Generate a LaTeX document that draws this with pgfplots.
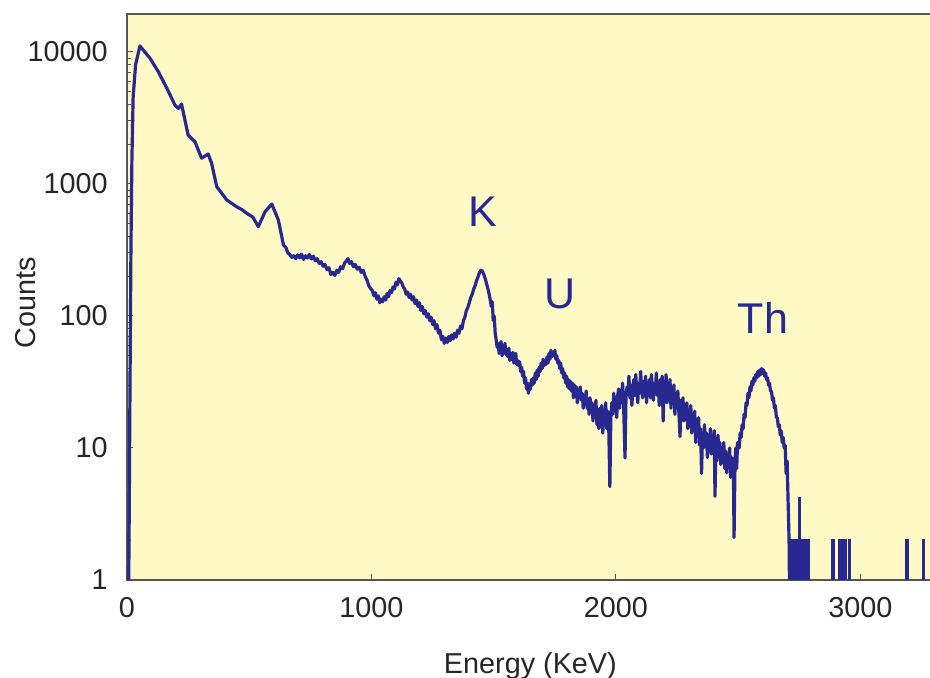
\documentclass[border=0pt]{standalone}
\usepackage{fontspec}
\setmainfont{Liberation Sans}
\usepackage{pgfplots}
\pgfplotsset{compat=1.18}
\definecolor{bgyellow}{RGB}{255,249,198}
\definecolor{specblue}{RGB}{40,40,145}
\definecolor{axgray}{RGB}{85,85,85}
\begin{document}
\begin{tikzpicture}
\useasboundingbox (0,0) rectangle (465pt,339pt);
\begin{axis}[
    at={(63.5pt,49pt)}, anchor=south west,
    scale only axis,
    width=403.4pt, height=283pt,
    xmin=0, xmax=3300,
    ymode=log, ymin=1, ymax=19400,
    axis background/.style={fill=bgyellow},
    axis line style={axgray, line width=0.8pt},
    xtick={0,1000,2000,3000},
    xticklabels={0,1000,2000,3000},
    ytick={1,10,100,1000,10000},
    yticklabels={1,10,100,1000,10000},
    xtick pos=bottom, ytick pos=left,
    tick align=inside,
    major tick length=3pt, minor tick length=2pt,
    tick style={axgray, line width=0.5pt},
    /pgf/number format/assume math mode=true,
    tick label style={font=\fontsize{14.4}{17}\selectfont, text=black!85},
    xticklabel style={anchor=base, inner sep=0pt, yshift=-19pt},
    yticklabel style={anchor=east, inner sep=0pt, xshift=-9.5pt},
    xlabel={Energy (KeV)},
    ylabel={Counts},
    label style={font=\fontsize{14.4}{17}\selectfont, text=black!85},
    xlabel style={at={(axis description cs:0.5,0)}, anchor=base, yshift=-46.5pt},
    ylabel style={at={(axis description cs:-0.1252,0.49)}, anchor=center},
]
% gamma spectrum, counts per channel
\addplot[specblue, line width=1.6pt, line join=round] coordinates {
(6,0.5)(9,3)(12,25)(16,300)(20,1500)(25,4500)(35,8000)(53,11100)(94,8960)(128,7090)
(163,5310)(196,3965)(210,3740)(223,4035)(237,3053)(250,2350)(278,2090)(305,1567)
(332,1687)(346,1436)(367,955)(408,757)(448,673)(470,640)(490,600)(515,560)(537,475)
(565,617)(592,705)(619,534)(640,345)
(650,330)(658,300)(666,292)(674,278)(682,286)(690,272)(698,290)(706,276)(714,294)
(722,268)(730,286)(738,275)(746,292)(754,270)(762,284)(770,262)(778,272)(786,250)
(794,258)(802,238)(810,246)(818,224)(826,232)(834,206)(842,214)(850,203)(858,222)
(866,214)(874,236)(882,228)(890,252)(898,262)(904,272)(910,250)(918,258)(926,236)
(934,246)(942,226)(950,234)(958,214)(966,222)(974,200)(982,186)(990,168)(998,160)
(1004,155)(1010,142)(1016,150)(1022,134)(1028,142)(1034,126)(1040,134)(1046,128)
(1052,140)(1058,132)(1064,148)(1070,140)(1076,156)(1082,150)(1088,166)(1094,160)
(1100,180)(1106,172)(1112,192)(1118,184)(1124,178)(1130,166)(1136,160)(1142,146)
(1148,152)(1154,138)(1160,146)(1166,132)(1172,140)(1178,124)(1184,132)(1190,118)
(1196,126)(1202,110)(1208,118)(1214,104)(1220,110)(1226,98)(1232,104)(1238,92)
(1244,98)(1250,86)(1256,92)(1262,80)(1268,86)(1274,74)(1280,78)(1286,66)(1292,70)
(1298,62)(1304,68)(1310,63)(1316,70)(1322,65)(1328,72)(1334,67)(1340,74)(1346,69)
(1352,78)(1358,74)(1364,84)(1370,80)(1376,92)(1382,98)(1388,110)(1394,116)(1400,126)
(1406,138)(1412,146)(1418,160)(1424,170)(1430,186)(1436,198)(1442,214)(1448,222)
(1454,218)(1460,205)(1466,190)(1472,172)(1478,156)(1484,138)(1490,118)(1494,128)
(1498,92)(1502,100)(1506,74)
(1510,66)(1514,58)(1518,62)(1522,52)(1526,60)(1530,64)(1534,50)(1538,56)(1542,53)
(1546,62)(1550,51)(1554,55)(1558,49)(1562,57)(1566,46)(1570,51)(1574,47)(1578,53)
(1582,44)(1586,50)(1590,52)(1594,43)(1598,46)(1602,42)(1606,45)(1610,38)(1614,41)
(1618,35)(1622,38)(1626,31)(1630,34)(1634,28)(1638,31)(1642,26)(1646,30)(1650,28)
(1654,33)(1658,30)(1662,34)(1666,31)(1670,37)(1674,33)(1678,39)(1682,35)(1686,41)
(1690,38)(1694,44)(1698,40)(1702,47)(1706,42)(1710,46)(1714,43)(1718,49)(1722,44)
(1726,52)(1730,47)(1734,55)(1738,49)(1742,53)(1746,50)(1750,55)(1754,47)(1758,50)
(1762,44)(1766,46)(1770,40)(1774,44)(1778,37)(1782,40)(1786,34)(1790,37)(1794,31)
(1798,35)(1802,29)(1806,33)(1810,28)(1814,32)(1818,27)(1822,31)(1826,24)(1830,30)
(1834,26)(1838,29)(1842,22)(1846,27)(1850,25)(1854,29)(1858,23)(1862,26)(1866,20)
(1870,25)(1874,22)(1878,27)(1882,20)(1886,23)(1890,18)(1894,24)(1898,19)(1902,22)
(1906,16)(1910,21)(1914,18)(1918,23)(1922,15)(1926,19)(1930,14)(1934,20)(1938,16)
(1942,21)(1946,13)(1950,18)(1954,15)(1958,22)(1962,14)(1966,19)(1970,16)(1975,5.1)
(1979,17)(1983,22)(1987,18)(1991,26)(1995,20)(1999,24)(2003,17)(2007,25)(2011,28)
(2015,20)(2019,27)(2023,23)(2027,31)(2031,22)(2037,8.4)(2041,24)(2045,29)(2049,26)
(2053,35)(2057,24)(2061,30)(2065,21)(2069,28)(2073,33)(2077,25)(2081,36)(2085,27)
(2089,22)(2093,31)(2097,26)(2101,38)(2105,28)(2109,24)(2113,32)(2117,27)(2121,35)
(2125,22)(2129,29)(2133,26)(2137,33)(2141,24)(2145,36)(2149,28)(2153,23)(2157,31)
(2161,27)(2165,37)(2169,25)(2173,30)(2177,21)(2181,33)(2185,27)(2189,35)(2193,16)
(2197,29)(2201,25)(2205,36)(2209,22)(2213,30)(2217,26)(2221,33)(2225,20)(2229,28)
(2233,24)(2237,30)(2241,18)(2245,25)(2249,22)(2253,27)(2257,19)(2262,12.2)(2266,23)
(2270,19)(2274,24)(2278,16)(2282,21)(2286,18)(2290,22)(2294,14)(2298,19)(2302,16)
(2306,21)(2310,13)(2314,17)(2318,14)(2322,19)(2326,11)(2330,16)(2334,13)(2338,17)
(2342,10.5)(2346,14)(2350,6.4)(2354,13)(2358,10)(2362,15)(2366,11)(2370,13)(2374,8.5)
(2378,12)(2382,10)(2386,14)(2390,9)(2394,12)(2398,10)(2402,13.5)(2405,4.3)(2409,11)
(2413,8)(2417,12.5)(2421,9.5)(2425,11)(2429,7.5)(2433,10)(2437,8)(2441,11)(2445,7)
(2449,9.5)(2453,6.5)(2457,9)(2461,7.5)(2465,10)(2469,6)(2473,8.5)(2477,7)(2480,8)
(2483,2.1)(2487,8)(2490,10)(2494,7)(2497,11)
(2500,11)(2504,10)(2508,13)(2512,12)(2516,15)(2520,14)(2524,18)(2528,17)(2532,22)
(2536,21)(2540,26)(2544,24)(2548,29)(2552,27)(2556,32)(2560,30)(2564,34)(2568,32)
(2572,36)(2576,34)(2580,38)(2584,35)(2588,39)(2592,36)(2596,40)(2600,37)(2604,39)
(2608,35)(2612,37)(2616,33)(2620,34)(2624,30)(2628,31)(2632,27)(2636,27)(2640,23)
(2644,24)(2648,20)(2652,21)(2656,17)(2660,17)(2664,14.5)(2668,15)(2672,12.5)
(2676,13.5)(2680,11)(2684,12)(2688,10)(2692,10.5)(2696,6.4)(2700,8)(2704,4)(2708,2)
(2711,0.5)
};
\addplot[specblue, line width=1.2pt, const plot] coordinates {
(2711,0.5)(2714,2)(2718,0.5)(2722,2)(2726,0.5)(2731,2)(2735,0.5)(2740,2)(2744,0.5)
(2748,4.2)(2752,0.5)(2756,2)(2760,0.5)(2766,2)(2770,0.5)(2775,2)(2779,0.5)(2783,2)
(2787,0.5)(2886,2)(2890,0.5)(2914,2)(2918,0.5)(2926,2)(2930,0.5)(2938,2)(2942,0.5)
(2952,2)(2956,0.5)(3189,2)(3193,0.5)(3257,2)(3261,0.5)(3300,0.5)
};
\node[text=specblue, font=\fontsize{21.5}{24}\selectfont] at (axis cs:1456,614) {K};
\node[text=specblue, font=\fontsize{21.5}{24}\selectfont] at (axis cs:1771,147) {U};
\node[text=specblue, font=\fontsize{21.5}{24}\selectfont] at (axis cs:2601,96.6) {Th};
\end{axis}
\end{tikzpicture}
\end{document}
